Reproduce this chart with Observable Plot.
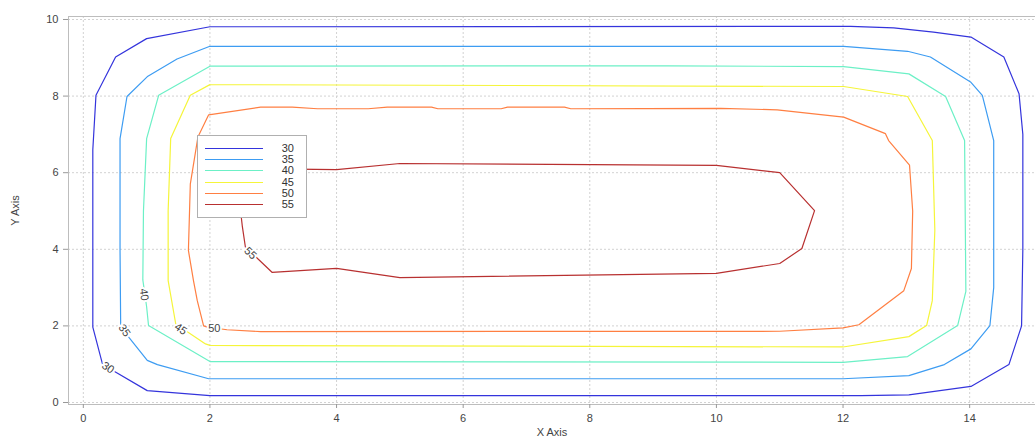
<!DOCTYPE html>
<html>
<head>
<meta charset="utf-8">
<script src="https://cdn.jsdelivr.net/npm/d3@7"></script>
<script src="https://cdn.jsdelivr.net/npm/@observablehq/plot@0.6"></script>
<style>
  body { margin: 0; background: white; }
  #wrap { position: relative; width: 1035px; height: 439px; font-family: "Liberation Sans", Arial, sans-serif; }
  #legend { position: absolute; left: 197px; top: 135px; width: 108px; height: 81px; background: white; border: 1px solid #b0b0b0; }
  .row { position: absolute; left: 0; width: 108px; height: 11px; }
  .sw { position: absolute; left: 7px; width: 58px; top: 5px; height: 0; border-top: 1.5px solid; }
  .lab { position: absolute; right: 12px; top: 0; font-size: 11px; line-height: 11px; color: #333; }
</style>
</head>
<body>
<div id="wrap"><div id="legend"></div></div>
<script>
const levels = [30, 35, 40, 45, 50, 55];
const colors = ["#3434dc", "#3d9cf2", "#6cf0c6", "#f5f53a", "#ff7f42", "#b83030"];

const c30 = [[2,9.81],[1.0,9.5],[0.51,9.02],[0.2,8.02],[0.15,6.6],[0.15,4],[0.15,1.97],[0.3,1.02],[0.48,0.82],[1.01,0.31],[2,0.18],[12.28,0.18],[13.04,0.2],[14.02,0.42],[14.62,0.99],[14.82,2.0],[14.84,4],[14.84,7],[14.78,8.06],[14.54,9.02],[14.02,9.54],[13.43,9.67],[12.8,9.78],[12.12,9.82],[2,9.81]];
const c35 = [[2,9.30],[1.48,8.97],[1.02,8.52],[0.69,7.99],[0.58,6.89],[0.58,4],[0.59,2.01],[0.72,1.7],[1.01,1.1],[1.17,0.99],[1.98,0.62],[12,0.62],[13.04,0.70],[13.6,0.99],[14.02,1.40],[14.32,2.01],[14.38,3],[14.38,6.84],[14.2,8.02],[14.02,8.36],[13.38,9.02],[13.02,9.17],[12.01,9.30],[2,9.30]];
const c40 = [[2,8.78],[1.19,8.02],[1.0,6.89],[0.95,5],[0.94,3.2],[1.0,2.5],[1.03,2.01],[2,1.07],[12,1.05],[13.02,1.2],[13.81,2.01],[13.94,2.9],[13.92,6.84],[13.62,7.99],[13.04,8.58],[12.01,8.77],[9.24,8.79],[2,8.78]];
const c45 = [[2,8.30],[1.69,8.02],[1.38,6.89],[1.34,5],[1.34,3.18],[1.46,2.05],[1.93,1.53],[2,1.49],[12,1.45],[13.04,1.72],[13.32,2.01],[13.41,2.66],[13.45,4.5],[13.41,6.84],[13.02,7.99],[12.01,8.25],[2,8.30]];
const c50 = [[1.98,7.51],[1.81,6.93],[1.69,5.7],[1.66,3.97],[1.74,3.18],[1.8,2.66],[1.9,2.0],[1.96,1.97],[2.27,1.9],[2.8,1.85],[11,1.86],[12,1.95],[12.25,2.03],[12.96,2.92],[13.08,3.5],[13.1,5],[13.05,6.2],[12.72,6.84],[12.67,7.02],[12.01,7.45],[10.96,7.64],[10.07,7.68],[7.7,7.67],[7.6,7.71],[6.7,7.71],[6.6,7.67],[5.6,7.67],[5.5,7.71],[4.8,7.71],[4.5,7.67],[3.7,7.67],[3.3,7.71],[2.8,7.71],[1.98,7.51]];
const c55 = [[3,6.1],[4,6.08],[5,6.24],[10,6.19],[11,6.0],[11.55,5.01],[11.35,4.02],[11,3.63],[10,3.37],[5,3.26],[4,3.5],[2.98,3.4],[2.56,4.06],[2.51,4.62],[2.45,5.5],[2.6,6.0],[3,6.1]];
const contours = [c30, c35, c40, c45, c50, c55];

const xTicks = [0, 2, 4, 6, 8, 10, 12, 14];
const yTicks = [0, 2, 4, 6, 8, 10];

const labelLevels = [30, 35, 40, 45, 50, 55];
const labelX = [0.39, 0.65, 0.96, 1.54, 2.07, 2.64];
const labelY = [0.91, 1.88, 2.82, 1.92, 1.92, 3.9];
const labelAngle = [34, 55, 82, 34, 0, 44];

const rows = [];
contours.forEach((pts, k) => pts.forEach(([x, y], i) => rows.push({level: levels[k], x, y, i})));
const labels = labelLevels.map((l, i) => ({level: l, x: labelX[i], y: labelY[i], a: labelAngle[i]}));

const chart = Plot.plot({
  width: 1035,
  height: 439,
  marginLeft: 68,
  marginTop: 16,
  marginRight: 0,
  marginBottom: 35,
  style: {fontFamily: "Liberation Sans, Arial, sans-serif", fontSize: "11px", color: "#444", background: "white"},
  x: {domain: [-0.234, 15.04]},
  y: {domain: [-0.052, 10.078]},
  color: {domain: levels, range: colors},
  marks: [
    Plot.gridX(xTicks, {stroke: "#d2d2d2", strokeOpacity: 1, strokeDasharray: "2,2"}),
    Plot.gridY(yTicks, {stroke: "#d2d2d2", strokeOpacity: 1, strokeDasharray: "2,2"}),
    Plot.frame({stroke: "#bdbdbd"}),
    Plot.axisX({ticks: xTicks, tickSize: 4, tickPadding: 6, stroke: "#999", label: "X Axis", labelAnchor: "center", labelOffset: 31, labelArrow: "none", fontSize: 11}),
    Plot.axisY({ticks: yTicks, tickSize: 5, tickPadding: 5, stroke: "#999", label: "Y Axis", labelAnchor: "center", labelOffset: 57, labelArrow: "none", fontSize: 11}),
    Plot.line(rows, {x: "x", y: "y", z: "level", stroke: "level", strokeWidth: 1.2}),
    Plot.text(labels, {x: "x", y: "y", text: d => String(d.level), rotate: "a", fill: "#444", stroke: "white", strokeWidth: 4, fontSize: 11})
  ]
});
const wrap = document.getElementById("wrap");
wrap.insertBefore(chart, wrap.firstChild);

const legend = document.getElementById("legend");
levels.forEach((l, i) => {
  const r = document.createElement("div");
  r.className = "row";
  r.style.top = (7 + i * 11.2) + "px";
  const s = document.createElement("div");
  s.className = "sw";
  s.style.borderColor = colors[i];
  const t = document.createElement("div");
  t.className = "lab";
  t.textContent = String(l);
  r.appendChild(s); r.appendChild(t);
  legend.appendChild(r);
});
</script>
</body>
</html>
